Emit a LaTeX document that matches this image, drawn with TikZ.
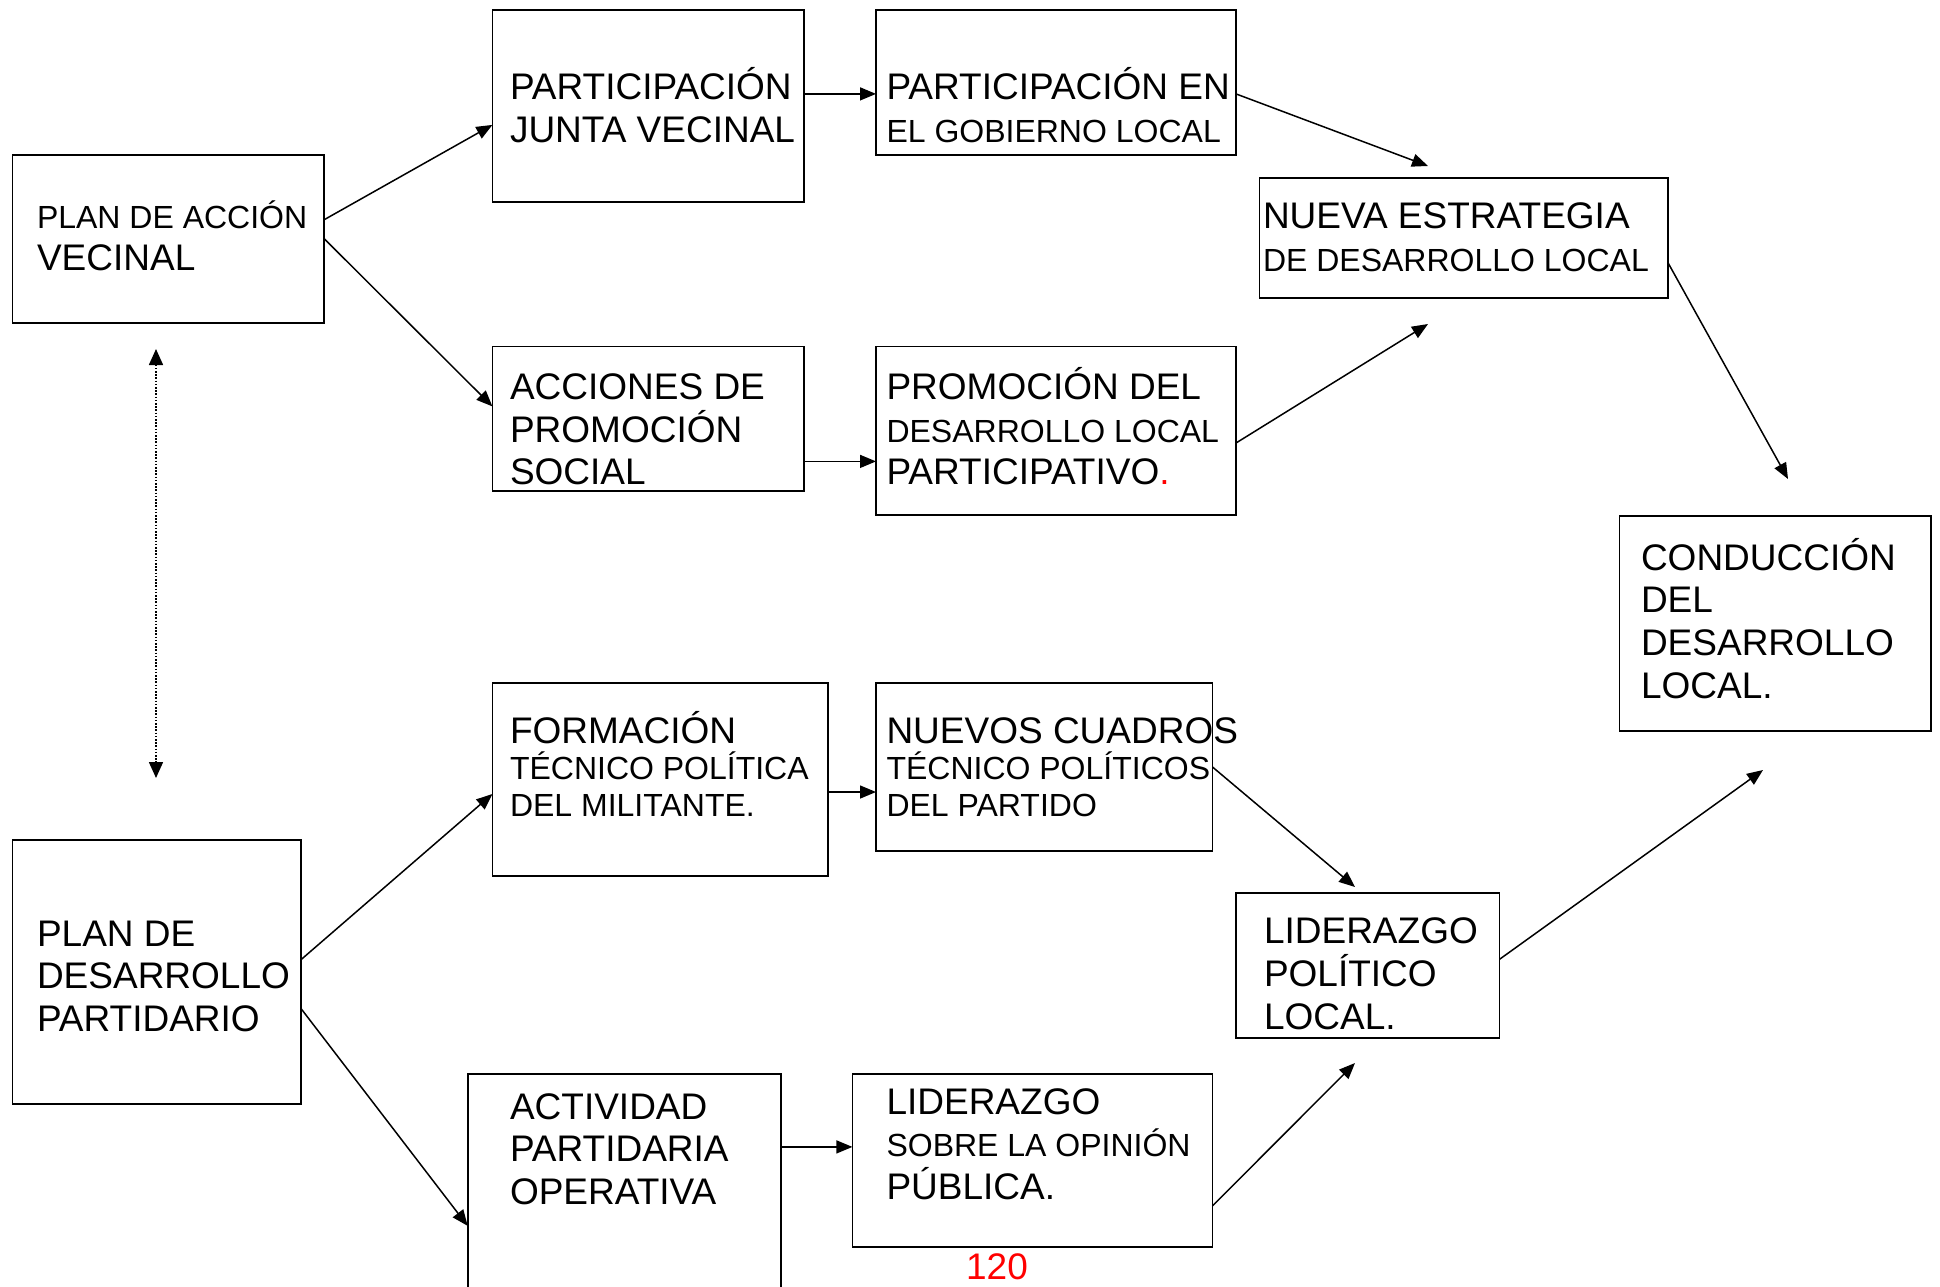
\documentclass[tikz,border=0pt]{standalone}
\usepackage{fontspec}
\setmainfont{Liberation Sans}
\usetikzlibrary{arrows.meta}
% stacked left-aligned lines; the baseline is that of the first line
\newcommand\txtlines[1]{\vtop{\halign{##\hfil\cr#1\crcr}}}
\newcommand\sm{\fontsize{32}{42.8}\selectfont}
\newcommand\tightline{\noalign{\vskip-6pt}}
\tikzset{
  box/.style={draw, line width=1.8pt, rectangle, inner sep=0pt, outer sep=0pt, anchor=north west},
  txt/.style={inner sep=0pt, outer sep=0pt, anchor=base west, font=\fontsize{37}{42.8}\selectfont},
  conn/.style={line width=1.5pt, -{Triangle[length=16pt,width=13pt]}},
  dotconn/.style={line width=1.6pt, dash pattern=on 1.6pt off 1.6pt,
    {Triangle[length=16pt,width=14pt]}-{Triangle[length=16pt,width=14pt]}},
}
\begin{document}
\begin{tikzpicture}[x=1pt,y=-1pt]
\useasboundingbox (0,0) rectangle (1940,1286);

% boxes
\node[box, minimum width=311.8pt, minimum height=168.2pt] (A) at (12.4,154.7) {};
\node[box, minimum width=311.8pt, minimum height=191.8pt] (B) at (492.4,9.9) {};
\node[box, minimum width=360pt,   minimum height=144.8pt] (C) at (876,9.9) {};
\node[box, minimum width=408.2pt, minimum height=120pt]   (D) at (1259.5,178.2) {};
\node[box, minimum width=311.8pt, minimum height=144.8pt] (E) at (492.4,346.4) {};
\node[box, minimum width=360pt,   minimum height=168.3pt] (F) at (876,346.4) {};
\node[box, minimum width=311.8pt, minimum height=215.3pt] (G) at (1619.5,515.9) {};
\node[box, minimum width=288.2pt, minimum height=263.6pt] (H) at (12.4,840) {};
\node[box, minimum width=335.3pt, minimum height=193pt]   (I) at (492.4,683) {};
\node[box, minimum width=336.5pt, minimum height=168.2pt] (J) at (876,683) {};
\node[box, minimum width=263.5pt, minimum height=144.7pt] (K) at (1236,893.3) {};
\node[box, minimum width=313pt,   minimum height=300pt]   (L) at (467.7,1073.9) {};
\node[box, minimum width=360.1pt, minimum height=173.2pt] (M) at (852.4,1073.9) {};

% texts
\node[txt] (At) at (37,228) {\txtlines{{\sm PLAN DE ACCIÓN}\cr VECINAL}};
\node[txt] (Bt) at (510,99.5) {\txtlines{PARTICIPACIÓN\cr JUNTA VECINAL}};
\node[txt] (Ct) at (886.5,99.5) {\txtlines{PARTICIPACIÓN EN\cr {\sm EL GOBIERNO LOCAL}}};
\node[txt] (Dt) at (1263,228.3) {\txtlines{NUEVA ESTRATEGIA\cr {\sm DE DESARROLLO LOCAL}}};
\node[txt] (Et) at (510,399.3) {\txtlines{ACCIONES DE\cr PROMOCIÓN\cr SOCIAL}};
\node[txt] (Ft) at (886.5,399.3) {\txtlines{PROMOCIÓN DEL\cr {\sm DESARROLLO LOCAL}\cr PARTICIPATIVO\textcolor{red}{.}}};
\node[txt] (Gt) at (1641,570) {\txtlines{CONDUCCIÓN\cr DEL\cr DESARROLLO\cr LOCAL.}};
\node[txt] (Ht) at (37,946) {\txtlines{PLAN DE\cr DESARROLLO\cr PARTIDARIO}};
\node[txt] (It) at (510,743) {\txtlines{FORMACIÓN\cr\tightline {\sm TÉCNICO POLÍTICA}\cr\tightline {\sm DEL MILITANTE.}}};
\node[txt] (Jt) at (886.5,743) {\txtlines{NUEVOS CUADROS\cr\tightline {\sm TÉCNICO POLÍTICOS}\cr\tightline {\sm DEL PARTIDO}}};
\node[txt] (Kt) at (1264,943.5) {\txtlines{LIDERAZGO\cr POLÍTICO\cr LOCAL.}};
\node[txt] (Lt) at (510,1119) {\txtlines{ACTIVIDAD\cr PARTIDARIA\cr OPERATIVA}};
\node[txt] (Mt) at (886.5,1114) {\txtlines{LIDERAZGO\cr {\sm SOBRE LA OPINIÓN}\cr PÚBLICA.}};
\node[txt, anchor=base, text=red] (pg) at (997,1279.5) {120};

% free arrow ends
\coordinate (tipCD) at (1428,166);
\coordinate (tipFD) at (1428,324);
\coordinate (tipDG) at (1788,479);
\coordinate (tipJK) at (1355,887);
\coordinate (tipMK) at (1355,1063);
\coordinate (tipKG) at (1763,770);
\coordinate (tipUp) at (156,349);
\coordinate (tipDn) at (156,778);

% connectors
\draw[conn] ([yshift=-65pt]A.north east) -- ([yshift=-115pt]B.north west);
\draw[conn] ([yshift=-84pt]A.north east) -- ([yshift=-60pt]E.north west);
\draw[conn] ([yshift=-84pt]B.north east) -- ([yshift=-84pt]C.north west);
\draw[conn] ([yshift=-115pt]E.north east) -- ([yshift=-115pt]F.north west);
\draw[conn] ([yshift=-84pt]C.north east) -- (tipCD);
\draw[conn] ([yshift=-96.6pt]F.north east) -- (tipFD);
\draw[conn] ([yshift=-84pt]D.north east) -- (tipDG);
\draw[conn] ([yshift=-109pt]I.north east) -- ([yshift=-109pt]J.north west);
\draw[conn] ([yshift=-84pt]J.north east) -- (tipJK);
\draw[conn] ([yshift=-132pt]M.north east) -- (tipMK);
\draw[conn] ([yshift=-66pt]K.north east) -- (tipKG);
\draw[conn] ([yshift=-120pt]H.north east) -- ([yshift=-111pt]I.north west);
\draw[conn] ([yshift=-168pt]H.north east) -- ([yshift=-152pt]L.north west);
\draw[conn] ([yshift=-73pt]L.north east) -- ([yshift=-73pt]M.north west);
\draw[dotconn] (tipUp) -- (tipDn);
\end{tikzpicture}
\end{document}
